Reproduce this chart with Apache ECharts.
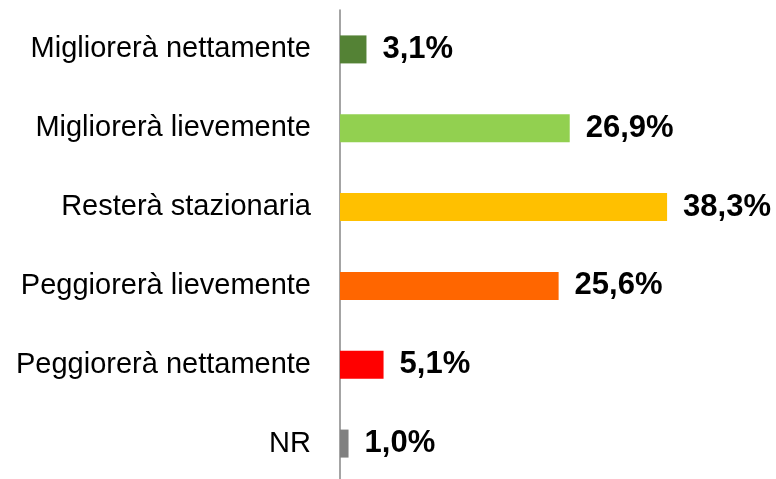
<!DOCTYPE html>
<html>
<head>
<meta charset="utf-8">
<script src="https://cdn.jsdelivr.net/npm/echarts@6/dist/echarts.min.js"></script>
<style>
html,body{margin:0;padding:0;background:#fff;overflow:hidden;width:776px;height:479px;}
#chart{width:776px;height:484px;}
</style>
</head>
<body>
<div id="chart"></div>
<script>
const categories = ["Migliorerà nettamente","Migliorerà lievemente","Resterà stazionaria","Peggiorerà lievemente","Peggiorerà nettamente","NR"];
const values = [3.1, 26.9, 38.3, 25.6, 5.1, 1.0];
const barColors = ["#548235","#92D050","#FFC000","#FF6600","#FF0000","#808080"];

const chart = echarts.init(document.getElementById('chart'), null, {renderer:'canvas'});
chart.setOption({
  animation:false,
  backgroundColor:'#ffffff',
  grid:{left:340, top:10, width:427, height:473, containLabel:false},
  xAxis:{type:'value', min:0, max:50, show:false},
  yAxis:{
    type:'category', data:categories, inverse:true,
    axisLine:{show:true, lineStyle:{color:'#868686', width:1.5}},
    axisTick:{show:false},
    splitLine:{show:false},
    axisLabel:{margin:29, color:'#000', fontSize:29, fontFamily:'Liberation Sans, Arial, sans-serif'}
  },
  series:[{
    type:'bar',
    barWidth:28,
    data:values.map((v,i)=>({value:v, itemStyle:{color:barColors[i]}})),
    label:{
      show:true, position:'right', distance:16,
      color:'#000', fontSize:31, fontWeight:'bold',
      fontFamily:'Liberation Sans, Arial, sans-serif',
      formatter:p=>p.value.toFixed(1).replace('.', ',')+'%'
    }
  }]
});
</script>
</body>
</html>
